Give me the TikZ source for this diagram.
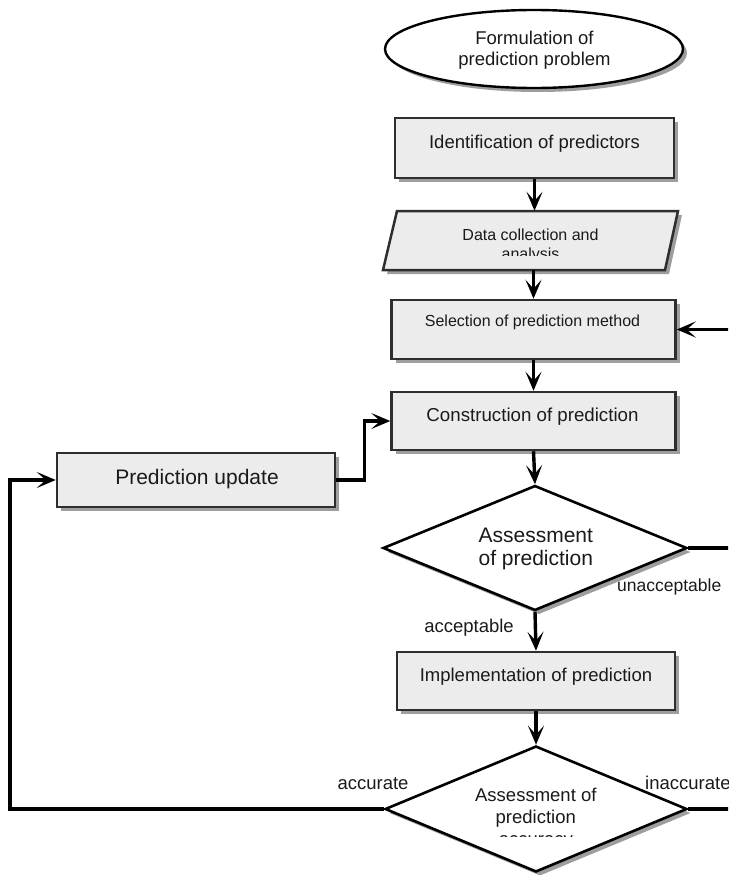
\documentclass[tikz,border=0pt]{standalone}
\usepackage{fontspec}
\setmainfont{Liberation Sans}
\usetikzlibrary{shapes.geometric,arrows.meta,shadows,calc}
\definecolor{boxfill}{HTML}{ECECEC}
\definecolor{boxline}{HTML}{2E2E2E}
\definecolor{shade}{HTML}{9E9E9E}
\definecolor{txt}{HTML}{1A1A1A}
\begin{document}
\begin{tikzpicture}[x=1pt,y=-1pt,
  shd/.style={drop shadow={shadow xshift=4pt,shadow yshift=-4pt,fill=shade,opacity=1}},
  procbox/.style={rectangle,draw=boxline,fill=boxfill,line width=2.5pt,inner sep=0pt,shd},
  iopath/.style={draw=boxline,fill=boxfill,line width=2.5pt,line join=miter,shd},
  decis/.style={diamond,draw=black,fill=white,line width=2.6pt,inner sep=0pt,shd},
  termin/.style={ellipse,draw=black,fill=white,line width=2.4pt,inner sep=0pt,shd},
  txtnode/.style={inner sep=0pt,anchor=base,text=txt},
  arr/.style={line width=3.4pt,-{Stealth[length=19pt,width=16pt,inset=9pt]}},
  conn/.style={line width=3.4pt},
  fA/.style={font=\fontsize{18.5}{20}\selectfont},
  fB/.style={font=\fontsize{16}{18}\selectfont},
  fC/.style={font=\fontsize{21}{23}\selectfont},
  fL/.style={font=\fontsize{17.5}{20}\selectfont},
]
\useasboundingbox (0,0) rectangle (728,875);
\clip (0,0) rectangle (728,875);

% shapes
\node[termin,minimum width=298pt,minimum height=78pt] (ell) at (534,49) {};
\node[procbox,minimum width=279pt,minimum height=60pt] (ident) at (534.5,148) {};
\path[iopath] (383,270) -- (397,211) -- (678,211) -- (665,270) -- cycle;
\node[inner sep=0pt,minimum width=281pt,minimum height=59pt] (data) at (530.5,240.5) {};
\node[procbox,minimum width=284pt,minimum height=59pt] (sel) at (533.5,329.5) {};
\node[procbox,minimum width=284pt,minimum height=58pt] (cons) at (533.5,421) {};
\node[procbox,minimum width=278pt,minimum height=54pt] (pu) at (196,480) {};
\node[decis,minimum width=304pt,minimum height=125pt] (d1) at (535,548) {};
\node[procbox,minimum width=278pt,minimum height=58pt] (impl) at (536,681) {};
\node[decis,minimum width=302pt,minimum height=126pt] (d2) at (536,809) {};

% texts
\node[txtnode,fA] (ellt1) at (534.5,45) {Formulation of};
\node[txtnode,fA] (ellt2) at (534.5,65.5) {prediction problem};
\node[txtnode,fA] (identt) at (534.5,148) {Identification of predictors};
\node[txtnode,fB] (datat1) at (530.5,240.5) {Data collection and};
\begin{scope}
  \clip (380,200) rectangle (700,255);
  \node[txtnode,fB] (datat2) at (530.5,259) {analysis};
\end{scope}
\node[txtnode,fB] (selt) at (532.5,326.5) {Selection of prediction method};
\node[txtnode,font=\fontsize{18.7}{20}\selectfont] (const) at (532.5,421) {Construction of prediction};
\node[txtnode,fC] (put) at (197,484) {Prediction update};
\node[txtnode,fC] (d1t1) at (535.8,542.7) {Assessment};
\node[txtnode,fC] (d1t2) at (535.8,565.2) {of prediction};
\node[txtnode,fA] (implt) at (536,681.7) {Implementation of prediction};
\node[txtnode,fA] (d2t1) at (535.8,801) {Assessment of};
\node[txtnode,fA] (d2t2) at (535.8,823) {prediction};
\begin{scope}
  \clip (380,826) rectangle (700,836.5);
  \node[txtnode,fA] (d2t3) at (535.8,845.5) {accuracy};
\end{scope}

% labels
\node[txtnode,fL,anchor=base west] (lunacc) at (617,591) {unacceptable};
\node[txtnode,fA] (lacc) at (469,632) {acceptable};
\node[txtnode,fA] (laccur) at (373,789) {accurate};
\node[txtnode,fA,anchor=base west] (linacc) at (645,789) {inaccurate};

% connectors
\coordinate (lx) at (10,809);
\coordinate (rx) at (760,809);
\draw[arr] (ident.south) -- (ident.south |- data.north);
\draw[arr] (sel.north |- data.south) -- (sel.north);
\draw[arr] (sel.south) -- (cons.north);
\draw[arr] (cons.south) -- (d1.north);
\draw[arr] (d1.south) -- (impl.north);
\draw[arr] (impl.south) -- (d2.north);
\draw[arr] (d1.east) -- ++(60,0) |- (sel.east);
\draw[arr] (pu.east) -- ++(28,0) |- (cons.west);
\draw[arr] (d2.west) -- (lx) |- (pu.west);
\draw[conn] (d2.east) -- (rx);
\end{tikzpicture}
\end{document}
